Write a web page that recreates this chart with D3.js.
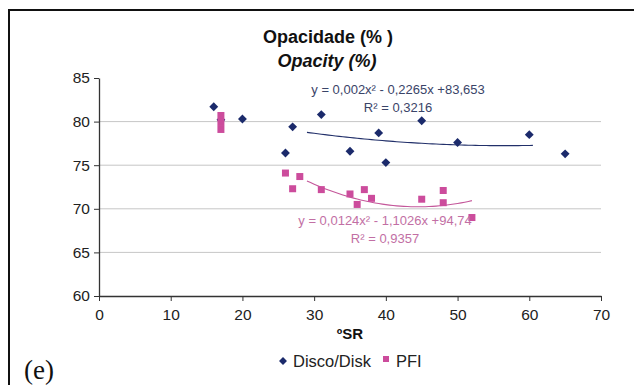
<!DOCTYPE html>
<html>
<head>
<meta charset="utf-8">
<script src="https://cdn.jsdelivr.net/npm/d3@7"></script>
<style>
  body { margin: 0; background: #fff; }
  svg { display: block; font-family: Arial, "Liberation Sans", sans-serif; }
</style>
</head>
<body>
<div id="chart"></div>
<script>
// Disco/Disk series (ºSR, opacity %)
const discoX = [16, 17, 20, 26, 27, 31, 35, 39, 40, 45, 50, 60, 65];
const discoY = [81.7, 80.2, 80.3, 76.4, 79.4, 80.8, 76.6, 78.7, 75.3, 80.1, 77.6, 78.5, 76.3];

// PFI series
const pfiX = [17, 17, 17, 26, 27, 28, 31, 35, 36, 37, 38, 45, 48, 48, 52];
const pfiY = [80.7, 79.9, 79.1, 74.1, 72.3, 73.7, 72.2, 71.7, 70.5, 72.2, 71.2, 71.1, 72.1, 70.7, 69.0];

// trendline coefficients [a, b, c] for y = a x² + b x + c, and drawn range
const discoFit = [0.002, -0.2265, 83.653];
const discoFitRange = [29, 60.5];
const pfiFit = [0.0124, -1.1026, 94.74];
const pfiFitRange = [29, 52];

const xTicks = [0, 10, 20, 30, 40, 50, 60, 70];
const yTicks = [60, 65, 70, 75, 80, 85];

const width = 634, height = 385;
const navy = '#1b2a6b', pink = '#cc4c9c';

const svg = d3.select('#chart').append('svg')
  .attr('width', width)
  .attr('height', height);

// outer frame (runs off the right and bottom edges)
svg.append('rect')
  .attr('x', 9).attr('y', 10)
  .attr('width', 640).attr('height', 400)
  .attr('fill', 'none')
  .attr('stroke', '#111')
  .attr('stroke-width', 2);

const x = d3.scaleLinear().domain([0, 70]).range([99, 601]);
const y = d3.scaleLinear().domain([60, 85]).range([296, 78]);

// gridlines
svg.append('g')
  .selectAll('line')
  .data(yTicks.filter(d => d > 60 && d < 85))
  .join('line')
  .attr('x1', x(0)).attr('x2', x(70))
  .attr('y1', d => y(d)).attr('y2', d => y(d))
  .attr('stroke', '#c6c6c6')
  .attr('stroke-width', 1);

// axes
const xAxis = svg.append('g')
  .attr('transform', `translate(0,${y(60)})`)
  .call(d3.axisBottom(x).tickValues(xTicks).tickSize(5).tickPadding(8).tickSizeOuter(0));
const yAxis = svg.append('g')
  .attr('transform', `translate(${x(0)},0)`)
  .call(d3.axisLeft(y).tickValues(yTicks).tickSize(5).tickPadding(4).tickSizeOuter(0));

[xAxis, yAxis].forEach(g => {
  g.select('.domain').attr('stroke', '#333').attr('stroke-width', 1.3);
  g.selectAll('.tick line').attr('stroke', '#333');
  g.selectAll('.tick text')
    .attr('fill', '#222')
    .style('font-size', '15.5px')
    .style('font-family', 'Arial, "Liberation Sans", sans-serif');
});

// trendlines
function fitLine(coef, range, color) {
  const [a, b, c] = coef;
  const xs = d3.range(range[0], range[1] + 0.001, 0.5);
  svg.append('path')
    .datum(xs)
    .attr('fill', 'none')
    .attr('stroke', color)
    .attr('stroke-width', 1.1)
    .attr('d', d3.line().x(d => x(d)).y(d => y(a * d * d + b * d + c)));
}
fitLine(discoFit, discoFitRange, '#22306a');
fitLine(pfiFit, pfiFitRange, '#c4579a');

// Disco markers (diamonds)
const diamond = d3.symbol().type(d3.symbolDiamond2).size(50);
svg.append('g')
  .selectAll('path')
  .data(discoX.map((d, i) => [d, discoY[i]]))
  .join('path')
  .attr('transform', d => `translate(${x(d[0])},${y(d[1])})`)
  .attr('d', diamond)
  .attr('fill', navy);

// PFI markers (squares)
svg.append('g')
  .selectAll('rect')
  .data(pfiX.map((d, i) => [d, pfiY[i]]))
  .join('rect')
  .attr('x', d => x(d[0]) - 3.5)
  .attr('y', d => y(d[1]) - 3.5)
  .attr('width', 7).attr('height', 7)
  .attr('fill', pink);

// equations
const eq = svg.append('g').style('font-size', '13px');
eq.append('text').attr('x', 398).attr('y', 94).attr('text-anchor', 'middle')
  .attr('fill', '#3a4468').text('y = 0,002x² - 0,2265x +83,653');
eq.append('text').attr('x', 398).attr('y', 112).attr('text-anchor', 'middle')
  .attr('fill', '#3a4468').text('R² = 0,3216');
eq.append('text').attr('x', 385).attr('y', 225).attr('text-anchor', 'middle')
  .attr('fill', '#c26fa4').text('y = 0,0124x² - 1,1026x +94,74');
eq.append('text').attr('x', 385).attr('y', 243).attr('text-anchor', 'middle')
  .attr('fill', '#c26fa4').text('R² = 0,9357');

// titles
svg.append('text').attr('x', 328).attr('y', 43).attr('text-anchor', 'middle')
  .style('font-size', '18px').style('font-weight', 'bold').attr('fill', '#111')
  .text('Opacidade (% )');
svg.append('text').attr('x', 327).attr('y', 67).attr('text-anchor', 'middle')
  .style('font-size', '18px').style('font-weight', 'bold').style('font-style', 'italic')
  .attr('fill', '#111').text('Opacity (%)');

// x axis title
svg.append('text').attr('x', 350).attr('y', 339).attr('text-anchor', 'middle')
  .style('font-size', '15px').style('font-weight', 'bold').attr('fill', '#111')
  .text('ºSR');

// legend
svg.append('path')
  .attr('transform', `translate(283,361)`)
  .attr('d', d3.symbol().type(d3.symbolDiamond2).size(40))
  .attr('fill', navy);
svg.append('text').attr('x', 293).attr('y', 367)
  .style('font-size', '16.5px').attr('fill', '#222').text('Disco/Disk');
svg.append('rect').attr('x', 383).attr('y', 356).attr('width', 6).attr('height', 6)
  .attr('fill', pink);
svg.append('text').attr('x', 396).attr('y', 367)
  .style('font-size', '16.5px').attr('fill', '#222').text('PFI');

// panel label
svg.append('text').attr('x', 24).attr('y', 379)
  .style('font-family', '"Liberation Serif", "DejaVu Serif", serif')
  .style('font-size', '27px').attr('fill', '#111').text('(e)');
</script>
</body>
</html>
